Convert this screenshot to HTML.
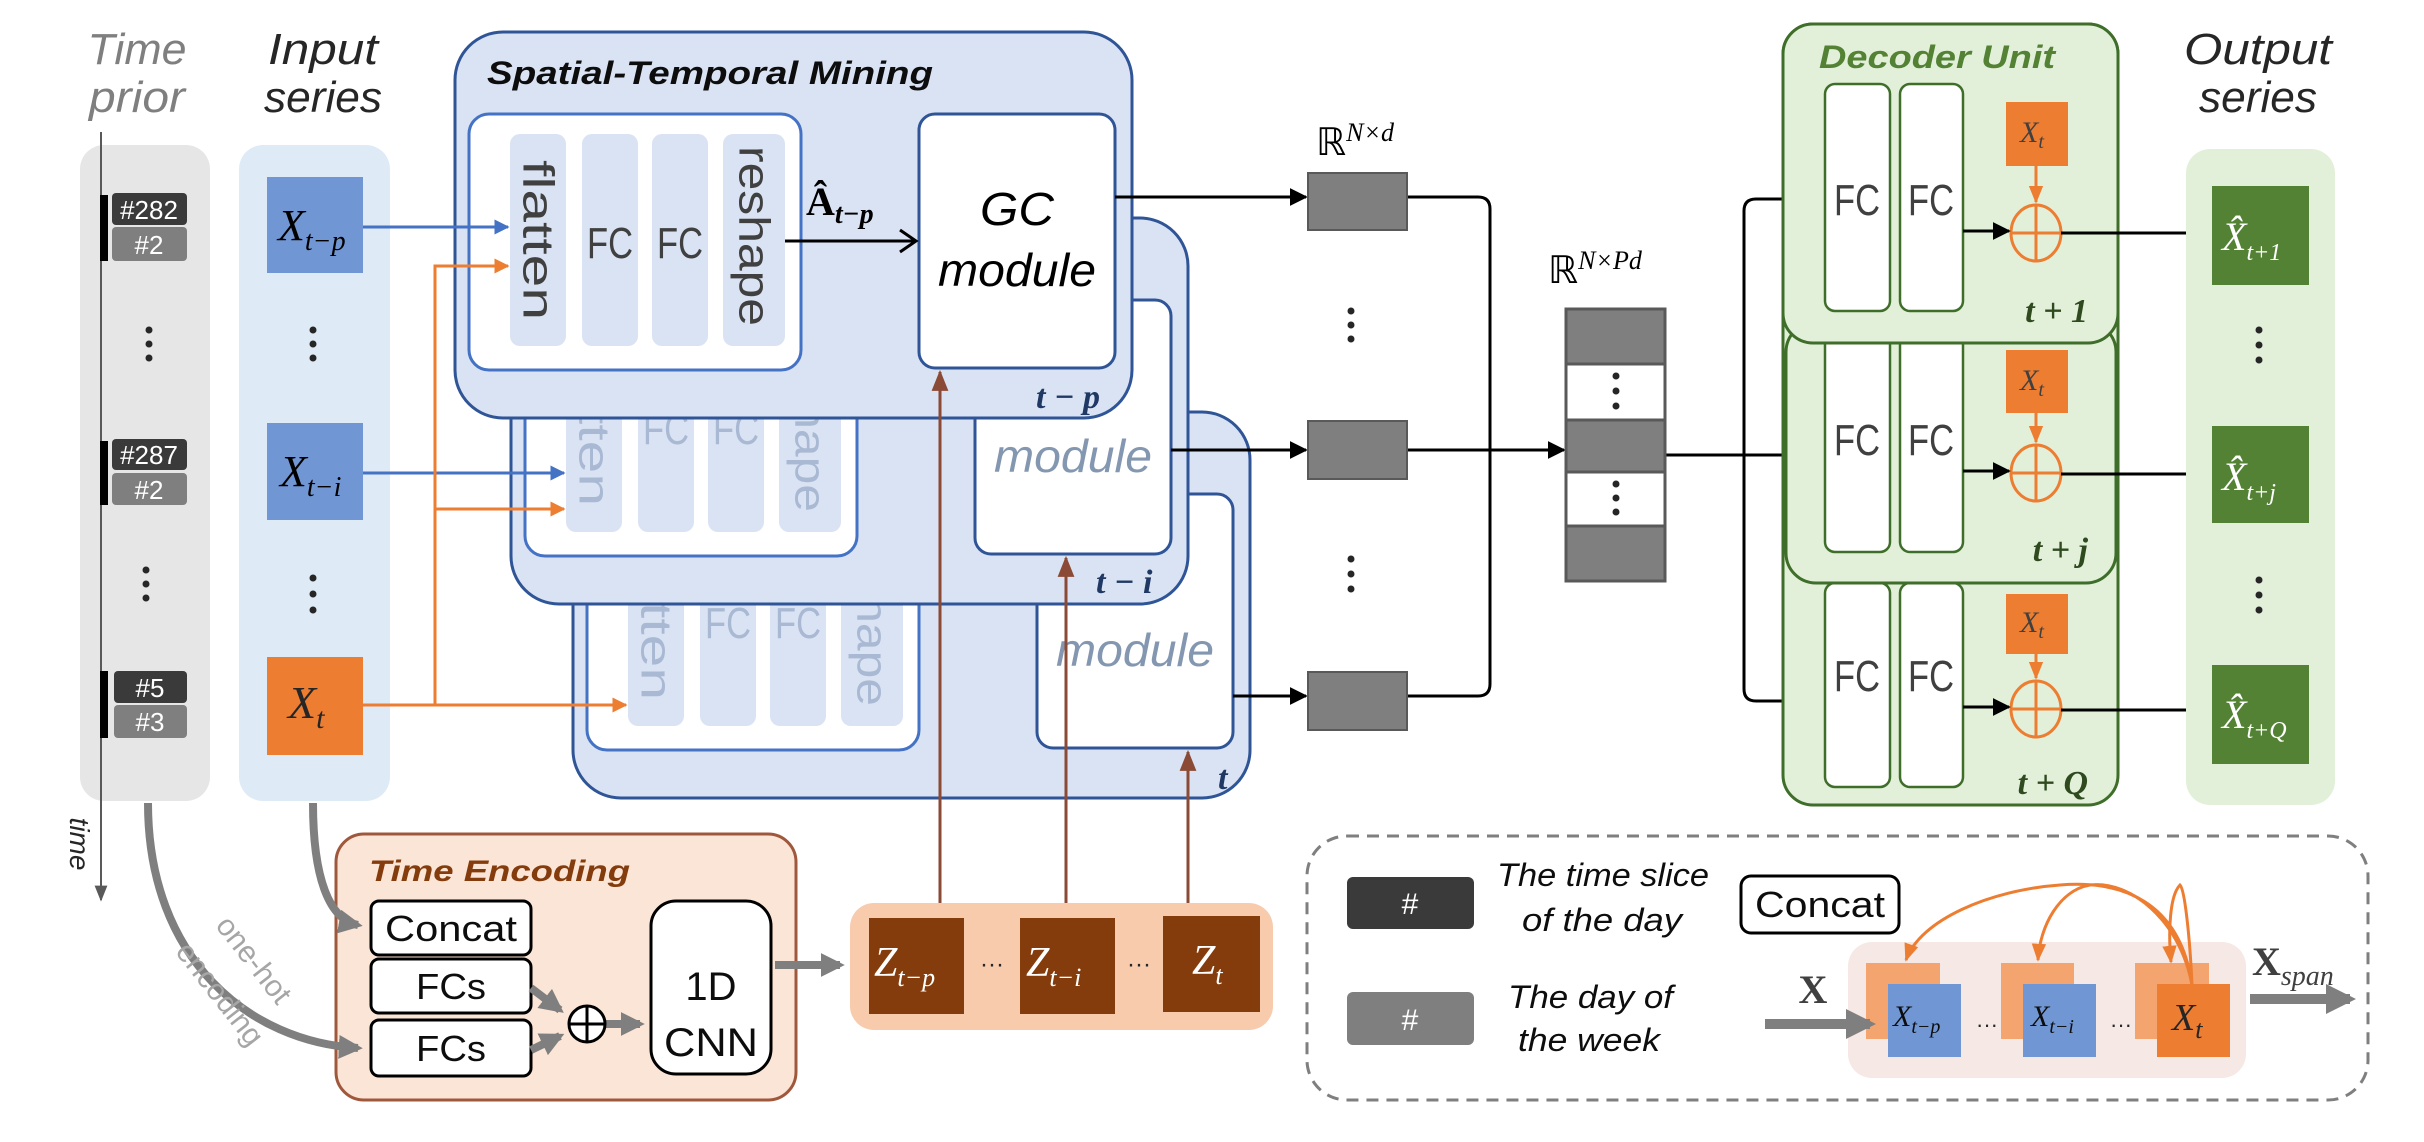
<!DOCTYPE html>
<html><head><meta charset="utf-8"><style>
html,body{margin:0;padding:0;background:#fff}
svg{display:block}
.s{font-family:"Liberation Sans",sans-serif}
.m{font-family:"Liberation Serif",serif;font-style:italic}
</style></head><body>
<svg width="2424" height="1142" viewBox="0 0 2424 1142" xmlns="http://www.w3.org/2000/svg">
<defs>
<marker id="ab" viewBox="0 0 10 10" refX="9" refY="5" markerWidth="5" markerHeight="5" orient="auto"><path d="M0,0L10,5L0,10z" fill="#4472c4"/></marker>
<marker id="ao" viewBox="0 0 10 10" refX="9" refY="5" markerWidth="5" markerHeight="5" orient="auto"><path d="M0,0L10,5L0,10z" fill="#ed7d31"/></marker>
<marker id="ak" viewBox="0 0 10 10" refX="9" refY="5" markerWidth="6" markerHeight="6" orient="auto"><path d="M0,0L10,5L0,10z" fill="#000"/></marker>
<marker id="ar" viewBox="0 0 10 10" refX="9" refY="5" markerWidth="7" markerHeight="7" orient="auto"><path d="M0,1L10,5L0,9z" fill="#8b4a35"/></marker>
<marker id="ag" viewBox="0 0 10 10" refX="8" refY="5" markerWidth="3" markerHeight="3" orient="auto"><path d="M0,0L10,5L0,10z" fill="#7f7f7f"/></marker>
<marker id="at" viewBox="0 0 10 10" refX="9" refY="5" markerWidth="8" markerHeight="8" orient="auto"><path d="M0,1L10,5L0,9z" fill="#595959"/></marker>
<marker id="ao2" viewBox="0 0 10 10" refX="9" refY="5" markerWidth="6" markerHeight="6" orient="auto"><path d="M0,1L10,5L0,9z" fill="#ed7d31"/></marker>
</defs>

<!-- Titles -->
<text class="s" x="137" y="64" font-size="44" font-style="italic" fill="#7f7f7f" text-anchor="middle" textLength="99" lengthAdjust="spacingAndGlyphs">Time</text>
<text class="s" x="137" y="112" font-size="44" font-style="italic" fill="#7f7f7f" text-anchor="middle" textLength="96" lengthAdjust="spacingAndGlyphs">prior</text>
<text class="s" x="323" y="64" font-size="44" font-style="italic" fill="#262626" text-anchor="middle" textLength="110" lengthAdjust="spacingAndGlyphs">Input</text>
<text class="s" x="323" y="112" font-size="44" font-style="italic" fill="#262626" text-anchor="middle" textLength="118" lengthAdjust="spacingAndGlyphs">series</text>
<text class="s" x="2258" y="64" font-size="44" font-style="italic" fill="#262626" text-anchor="middle" textLength="148" lengthAdjust="spacingAndGlyphs">Output</text>
<text class="s" x="2258" y="112" font-size="44" font-style="italic" fill="#262626" text-anchor="middle" textLength="118" lengthAdjust="spacingAndGlyphs">series</text>

<!-- Time prior panel -->
<rect x="80" y="145" width="130" height="656" rx="24" fill="#e7e6e6"/>
<line x1="101" y1="132" x2="101" y2="900" stroke="#595959" stroke-width="2" marker-end="url(#at)"/>
<text class="s" transform="translate(70,844) rotate(90)" font-size="28" font-style="italic" text-anchor="middle" fill="#262626">time</text>
<g class="s" font-size="26" fill="#fff" text-anchor="middle">
<rect x="100" y="195" width="8" height="66" fill="#000"/>
<rect x="112" y="193" width="75" height="32" rx="4" fill="#3a3a3a"/><text x="149" y="219">#282</text>
<rect x="112" y="227" width="75" height="34" rx="4" fill="#7f7f7f"/><text x="149" y="254">#2</text>
<rect x="100" y="441" width="8" height="64" fill="#000"/>
<rect x="112" y="439" width="75" height="31" rx="4" fill="#3a3a3a"/><text x="149" y="464">#287</text>
<rect x="112" y="473" width="75" height="32" rx="4" fill="#7f7f7f"/><text x="149" y="499">#2</text>
<rect x="100" y="671" width="8" height="67" fill="#000"/>
<rect x="114" y="671" width="73" height="32" rx="4" fill="#3a3a3a"/><text x="150" y="697">#5</text>
<rect x="114" y="705" width="73" height="33" rx="4" fill="#7f7f7f"/><text x="150" y="731">#3</text>
</g>
<g fill="#262626"><circle cx="149" cy="330" r="3.5"/><circle cx="149" cy="344" r="3.5"/><circle cx="149" cy="358" r="3.5"/>
<circle cx="146" cy="570" r="3.5"/><circle cx="146" cy="584" r="3.5"/><circle cx="146" cy="598" r="3.5"/></g>

<!-- Input panel -->
<rect x="239" y="145" width="151" height="656" rx="24" fill="#deebf7"/>
<rect x="267" y="177" width="96" height="96" fill="#7096d4"/>
<text class="m" x="278" y="240" font-size="44" fill="#000">X<tspan font-size="28" dy="10">t−p</tspan></text>
<rect x="267" y="423" width="96" height="97" fill="#7096d4"/>
<text class="m" x="280" y="486" font-size="44" fill="#000">X<tspan font-size="28" dy="10">t−i</tspan></text>
<rect x="267" y="657" width="96" height="98" fill="#ed7d31"/>
<text class="m" x="288" y="718" font-size="46" fill="#262626">X<tspan font-size="30" dy="10">t</tspan></text>
<g fill="#262626"><circle cx="313" cy="330" r="3.5"/><circle cx="313" cy="344" r="3.5"/><circle cx="313" cy="358" r="3.5"/>
<circle cx="313" cy="578" r="3.5"/><circle cx="313" cy="594" r="3.5"/><circle cx="313" cy="610" r="3.5"/></g>

<!-- STM third (back) -->
<g transform="translate(118,380)">
<rect x="455" y="32" width="677" height="386" rx="48" fill="#dae3f3" stroke="#2f5597" stroke-width="3"/>
<rect x="469" y="114" width="332" height="256" rx="20" fill="#fff" stroke="#4472c4" stroke-width="3"/>
<rect x="510" y="134" width="56" height="212" rx="10" fill="#dae3f3"/><rect x="582" y="134" width="56" height="212" rx="10" fill="#dae3f3"/>
<rect x="652" y="134" width="56" height="212" rx="10" fill="#dae3f3"/><rect x="723" y="134" width="62" height="212" rx="10" fill="#dae3f3"/>
<g class="s" fill="#aab9d3" font-size="44"><text transform="translate(538,240) rotate(90)" text-anchor="middle" dominant-baseline="central" textLength="160" lengthAdjust="spacingAndGlyphs">flatten</text>
<text x="610" y="258" text-anchor="middle" textLength="46" lengthAdjust="spacingAndGlyphs">FC</text><text x="680" y="258" text-anchor="middle" textLength="46" lengthAdjust="spacingAndGlyphs">FC</text>
<text transform="translate(754,236) rotate(90)" text-anchor="middle" dominant-baseline="central" textLength="180" lengthAdjust="spacingAndGlyphs">reshape</text></g>
<rect x="919" y="114" width="196" height="254" rx="16" fill="#fff" stroke="#2f5597" stroke-width="3"/>
<text class="s" x="1017" y="286" font-size="46" font-style="italic" fill="#8497b0" text-anchor="middle" textLength="158" lengthAdjust="spacingAndGlyphs">module</text>
<text class="m" x="1100" y="409" font-size="34" font-weight="bold" fill="#1f3864">t</text>
</g>
<!-- STM second -->
<g transform="translate(56,186)">
<rect x="455" y="32" width="677" height="386" rx="48" fill="#dae3f3" stroke="#2f5597" stroke-width="3"/>
<rect x="469" y="114" width="332" height="256" rx="20" fill="#fff" stroke="#4472c4" stroke-width="3"/>
<rect x="510" y="134" width="56" height="212" rx="10" fill="#dae3f3"/><rect x="582" y="134" width="56" height="212" rx="10" fill="#dae3f3"/>
<rect x="652" y="134" width="56" height="212" rx="10" fill="#dae3f3"/><rect x="723" y="134" width="62" height="212" rx="10" fill="#dae3f3"/>
<g class="s" fill="#aab9d3" font-size="44"><text transform="translate(538,240) rotate(90)" text-anchor="middle" dominant-baseline="central" textLength="160" lengthAdjust="spacingAndGlyphs">flatten</text>
<text x="610" y="258" text-anchor="middle" textLength="46" lengthAdjust="spacingAndGlyphs">FC</text><text x="680" y="258" text-anchor="middle" textLength="46" lengthAdjust="spacingAndGlyphs">FC</text>
<text transform="translate(754,236) rotate(90)" text-anchor="middle" dominant-baseline="central" textLength="180" lengthAdjust="spacingAndGlyphs">reshape</text></g>
<rect x="919" y="114" width="196" height="254" rx="16" fill="#fff" stroke="#2f5597" stroke-width="3"/>
<text class="s" x="1017" y="286" font-size="46" font-style="italic" fill="#8497b0" text-anchor="middle" textLength="158" lengthAdjust="spacingAndGlyphs">module</text>
<text class="m" x="1040" y="407" font-size="34" font-weight="bold" fill="#1f3864">t − i</text>
</g>
<!-- STM front -->
<g>
<rect x="455" y="32" width="677" height="386" rx="48" fill="#dae3f3" stroke="#2f5597" stroke-width="3"/>
<text class="s" x="487" y="84" font-size="32" font-weight="bold" font-style="italic" fill="#0d0d0d" textLength="446" lengthAdjust="spacingAndGlyphs">Spatial-Temporal Mining</text>
<rect x="469" y="114" width="332" height="256" rx="20" fill="#fff" stroke="#4472c4" stroke-width="3"/>
<rect x="510" y="134" width="56" height="212" rx="10" fill="#dae3f3"/><rect x="582" y="134" width="56" height="212" rx="10" fill="#dae3f3"/>
<rect x="652" y="134" width="56" height="212" rx="10" fill="#dae3f3"/><rect x="723" y="134" width="62" height="212" rx="10" fill="#dae3f3"/>
<g class="s" fill="#404040" font-size="44"><text transform="translate(538,240) rotate(90)" text-anchor="middle" dominant-baseline="central" textLength="160" lengthAdjust="spacingAndGlyphs">flatten</text>
<text x="610" y="258" text-anchor="middle" textLength="46" lengthAdjust="spacingAndGlyphs">FC</text><text x="680" y="258" text-anchor="middle" textLength="46" lengthAdjust="spacingAndGlyphs">FC</text>
<text transform="translate(754,236) rotate(90)" text-anchor="middle" dominant-baseline="central" textLength="180" lengthAdjust="spacingAndGlyphs">reshape</text></g>
<rect x="919" y="114" width="196" height="254" rx="16" fill="#fff" stroke="#2f5597" stroke-width="3"/>
<text class="s" x="1017" y="225" font-size="46" font-style="italic" fill="#000" text-anchor="middle" textLength="74" lengthAdjust="spacingAndGlyphs">GC</text>
<text class="s" x="1017" y="286" font-size="46" font-style="italic" fill="#000" text-anchor="middle" textLength="158" lengthAdjust="spacingAndGlyphs">module</text>
<text class="m" x="1036" y="408" font-size="34" font-weight="bold" fill="#1f3864">t − p</text>
<text x="806" y="215" font-family="Liberation Serif,serif" font-size="40" font-weight="bold" fill="#000">Â<tspan class="m" font-size="28" dy="8">t−p</tspan></text>
<line x1="785" y1="241" x2="915" y2="241" stroke="#000" stroke-width="3"/>
<path d="M900,230L916,241L900,252" fill="none" stroke="#000" stroke-width="3"/>
</g>

<!-- input arrows -->
<line x1="363" y1="227" x2="508" y2="227" stroke="#4472c4" stroke-width="3" marker-end="url(#ab)"/>
<line x1="363" y1="473" x2="564" y2="473" stroke="#4472c4" stroke-width="3" marker-end="url(#ab)"/>
<path d="M363,705H626" stroke="#ed7d31" stroke-width="3" fill="none" marker-end="url(#ao)"/>
<path d="M435,705V266H508" stroke="#ed7d31" stroke-width="3" fill="none" marker-end="url(#ao)"/>
<path d="M435,509H564" stroke="#ed7d31" stroke-width="3" fill="none" marker-end="url(#ao)"/>

<!-- brown arrows -->
<line x1="940" y1="918" x2="940" y2="372" stroke="#8b4a35" stroke-width="3" marker-end="url(#ar)"/>
<line x1="1066" y1="918" x2="1066" y2="558" stroke="#8b4a35" stroke-width="3" marker-end="url(#ar)"/>
<line x1="1188" y1="918" x2="1188" y2="752" stroke="#8b4a35" stroke-width="3" marker-end="url(#ar)"/>

<!-- black arrows to R^Nxd -->
<g stroke="#000" stroke-width="3" fill="none">
<line x1="1115" y1="197" x2="1306" y2="197" marker-end="url(#ak)"/>
<line x1="1171" y1="450" x2="1306" y2="450" marker-end="url(#ak)"/>
<line x1="1233" y1="696" x2="1306" y2="696" marker-end="url(#ak)"/>
<path d="M1407,197H1478Q1490,197 1490,209V684Q1490,696 1478,696H1407"/>
<line x1="1407" y1="450" x2="1564" y2="450" marker-end="url(#ak)"/>
<line x1="1665" y1="455" x2="1824" y2="455" marker-end="url(#ak)"/>
<path d="M1824,199H1756Q1744,199 1744,211V689Q1744,701 1756,701H1824"/>
<line x1="1800" y1="199" x2="1824" y2="199" marker-end="url(#ak)"/>
<line x1="1800" y1="701" x2="1824" y2="701" marker-end="url(#ak)"/>
</g>
<text x="1316" y="155" font-family="Liberation Serif,serif" font-size="38" fill="#000">ℝ<tspan class="m" font-size="26" dy="-14">N×d</tspan></text>
<rect x="1308" y="173" width="99" height="57" fill="#7f7f7f" stroke="#595959" stroke-width="2"/>
<rect x="1308" y="421" width="99" height="58" fill="#7f7f7f" stroke="#595959" stroke-width="2"/>
<rect x="1308" y="672" width="99" height="58" fill="#7f7f7f" stroke="#595959" stroke-width="2"/>
<g fill="#262626"><circle cx="1351" cy="311" r="3.5"/><circle cx="1351" cy="325" r="3.5"/><circle cx="1351" cy="339" r="3.5"/>
<circle cx="1351" cy="559" r="3.5"/><circle cx="1351" cy="574" r="3.5"/><circle cx="1351" cy="589" r="3.5"/></g>
<text x="1548" y="283" font-family="Liberation Serif,serif" font-size="38" fill="#000">ℝ<tspan class="m" font-size="26" dy="-14">N×Pd</tspan></text>
<rect x="1566" y="309" width="99" height="272" fill="#fff" stroke="#595959" stroke-width="3"/>
<rect x="1566" y="309" width="99" height="55" fill="#7f7f7f" stroke="#595959" stroke-width="3"/>
<rect x="1566" y="420" width="99" height="52" fill="#7f7f7f" stroke="#595959" stroke-width="3"/>
<rect x="1566" y="526" width="99" height="55" fill="#7f7f7f" stroke="#595959" stroke-width="3"/>
<g fill="#262626"><circle cx="1616" cy="376" r="3.5"/><circle cx="1616" cy="391" r="3.5"/><circle cx="1616" cy="406" r="3.5"/>
<circle cx="1616" cy="484" r="3.5"/><circle cx="1616" cy="498" r="3.5"/><circle cx="1616" cy="512" r="3.5"/></g>

<!-- Decoder -->
<rect x="1783" y="24" width="335" height="781" rx="30" fill="#e2f0d9" stroke="#3f6e2a" stroke-width="3"/>
<g fill="#fff" stroke="#3f6e2a" stroke-width="2.5">
<rect x="1825" y="583" width="65" height="204" rx="10"/><rect x="1900" y="583" width="63" height="204" rx="10"/></g>
<rect x="1786" y="322" width="330" height="261" rx="30" fill="#e2f0d9" stroke="#3f6e2a" stroke-width="3"/>
<g fill="#fff" stroke="#3f6e2a" stroke-width="2.5">
<rect x="1825" y="330" width="65" height="222" rx="10"/><rect x="1900" y="330" width="63" height="222" rx="10"/></g>
<rect x="1783" y="24" width="335" height="319" rx="30" fill="#e2f0d9" stroke="#3f6e2a" stroke-width="3"/>
<text class="s" x="1819" y="68" font-size="32" font-weight="bold" font-style="italic" fill="#548235" textLength="236" lengthAdjust="spacingAndGlyphs">Decoder Unit</text>
<g fill="#fff" stroke="#3f6e2a" stroke-width="2.5">
<rect x="1825" y="84" width="65" height="227" rx="10"/><rect x="1900" y="84" width="63" height="227" rx="10"/></g>
<g class="s" font-size="44" fill="#404040" text-anchor="middle">
<text x="1857" y="215" textLength="46" lengthAdjust="spacingAndGlyphs">FC</text><text x="1931" y="215" textLength="46" lengthAdjust="spacingAndGlyphs">FC</text>
<text x="1857" y="455" textLength="46" lengthAdjust="spacingAndGlyphs">FC</text><text x="1931" y="455" textLength="46" lengthAdjust="spacingAndGlyphs">FC</text>
<text x="1857" y="691" textLength="46" lengthAdjust="spacingAndGlyphs">FC</text><text x="1931" y="691" textLength="46" lengthAdjust="spacingAndGlyphs">FC</text></g>
<g>
<rect x="2006" y="102" width="62" height="64" fill="#ed7d31"/><text class="m" x="2020" y="142" font-size="30" fill="#404040">X<tspan font-size="20" dy="6">t</tspan></text>
<rect x="2006" y="350" width="62" height="63" fill="#ed7d31"/><text class="m" x="2020" y="390" font-size="30" fill="#404040">X<tspan font-size="20" dy="6">t</tspan></text>
<rect x="2006" y="594" width="62" height="60" fill="#ed7d31"/><text class="m" x="2020" y="632" font-size="30" fill="#404040">X<tspan font-size="20" dy="6">t</tspan></text>
</g>
<g stroke="#ed7d31" stroke-width="3" fill="none">
<line x1="2036" y1="166" x2="2036" y2="202" marker-end="url(#ao2)"/>
<line x1="2036" y1="413" x2="2036" y2="442" marker-end="url(#ao2)"/>
<line x1="2036" y1="654" x2="2036" y2="678" marker-end="url(#ao2)"/>
<ellipse cx="2036" cy="233" rx="25" ry="28"/><path d="M2011,233H2061M2036,205V261"/>
<ellipse cx="2036" cy="473" rx="25" ry="28"/><path d="M2011,473H2061M2036,445V501"/>
<ellipse cx="2036" cy="709" rx="25" ry="28"/><path d="M2011,709H2061M2036,681V737"/>
</g>
<g stroke="#000" stroke-width="3">
<line x1="1963" y1="231" x2="2009" y2="231" marker-end="url(#ak)"/>
<line x1="1963" y1="471" x2="2009" y2="471" marker-end="url(#ak)"/>
<line x1="1963" y1="707" x2="2009" y2="707" marker-end="url(#ak)"/>
<line x1="2061" y1="233" x2="2210" y2="233" marker-end="url(#ak)"/>
<line x1="2061" y1="474" x2="2210" y2="474" marker-end="url(#ak)"/>
<line x1="2061" y1="710" x2="2210" y2="710" marker-end="url(#ak)"/>
</g>
<g class="m" font-size="34" font-weight="bold" fill="#2e4a1e" text-anchor="end">
<text x="2088" y="322">t + 1</text><text x="2088" y="561">t + j</text><text x="2088" y="794">t + Q</text></g>

<!-- Output -->
<rect x="2186" y="149" width="149" height="656" rx="24" fill="#e2f0d9"/>
<rect x="2212" y="186" width="97" height="99" fill="#548235"/>
<rect x="2212" y="426" width="97" height="97" fill="#548235"/>
<rect x="2212" y="665" width="97" height="99" fill="#548235"/>
<g class="m" fill="#fff" font-size="40">
<text x="2222" y="250">X̂<tspan font-size="24" dy="10">t+1</tspan></text>
<text x="2222" y="490">X̂<tspan font-size="24" dy="10">t+j</tspan></text>
<text x="2222" y="728">X̂<tspan font-size="24" dy="10">t+Q</tspan></text></g>
<g fill="#262626"><circle cx="2259" cy="330" r="3.5"/><circle cx="2259" cy="345" r="3.5"/><circle cx="2259" cy="360" r="3.5"/>
<circle cx="2259" cy="580" r="3.5"/><circle cx="2259" cy="595" r="3.5"/><circle cx="2259" cy="610" r="3.5"/></g>

<!-- Time Encoding -->
<rect x="336" y="834" width="460" height="266" rx="28" fill="#fbe5d6" stroke="#a0583d" stroke-width="3"/>
<text class="s" x="369" y="881" font-size="30" font-weight="bold" font-style="italic" fill="#843c0c" textLength="261" lengthAdjust="spacingAndGlyphs">Time Encoding</text>
<g fill="#fff" stroke="#000" stroke-width="3">
<rect x="371" y="901" width="160" height="54" rx="8"/><rect x="371" y="959" width="160" height="54" rx="8"/><rect x="371" y="1020" width="160" height="56" rx="8"/>
<rect x="651" y="901" width="120" height="173" rx="25"/></g>
<g class="s" font-size="36" fill="#0d0d0d" text-anchor="middle">
<text x="451" y="941" textLength="132" lengthAdjust="spacingAndGlyphs">Concat</text>
<text x="451" y="999" textLength="70" lengthAdjust="spacingAndGlyphs">FCs</text>
<text x="451" y="1061" textLength="70" lengthAdjust="spacingAndGlyphs">FCs</text>
<text x="711" y="1000" font-size="40">1D</text><text x="711" y="1056" font-size="40" textLength="94" lengthAdjust="spacingAndGlyphs">CNN</text></g>
<g stroke="#7f7f7f" stroke-width="8" fill="none">
<path d="M531,988L560,1010" marker-end="url(#ag)"/>
<path d="M531,1050L560,1036" marker-end="url(#ag)"/>
<path d="M606,1024H640" marker-end="url(#ag)"/>
<path d="M775,965H840" marker-end="url(#ag)"/>
<path d="M148,803C148,960 250,1042 358,1048" marker-end="url(#ag)"/>
<path d="M313,803C313,880 330,920 358,925" marker-end="url(#ag)"/>
</g>
<circle cx="587" cy="1024" r="18" fill="#fff" stroke="#000" stroke-width="3"/>
<path d="M569,1024H605M587,1006V1042" stroke="#000" stroke-width="3"/>
<text class="s" transform="translate(246,966) rotate(52)" font-size="30" fill="#a6a6a6" text-anchor="middle">one-hot</text>
<text class="s" transform="translate(212,1000) rotate(52)" font-size="30" fill="#a6a6a6" text-anchor="middle">encoding</text>

<!-- Z panel -->
<rect x="850" y="903" width="423" height="127" rx="24" fill="#f8cbad"/>
<rect x="869" y="918" width="95" height="96" fill="#843c0c"/>
<rect x="1020" y="918" width="95" height="96" fill="#843c0c"/>
<rect x="1163" y="916" width="97" height="96" fill="#843c0c"/>
<g class="m" fill="#fff" font-size="42">
<text x="874" y="976">Z<tspan font-size="26" dy="10">t−p</tspan></text>
<text x="1026" y="976">Z<tspan font-size="26" dy="10">t−i</tspan></text>
<text x="1192" y="974">Z<tspan font-size="26" dy="10">t</tspan></text></g>
<text x="992" y="972" font-size="24" fill="#262626" text-anchor="middle" class="s">···</text>
<text x="1139" y="972" font-size="24" fill="#262626" text-anchor="middle" class="s">···</text>

<!-- Legend -->
<rect x="1307" y="836" width="1061" height="264" rx="40" fill="none" stroke="#7f7f7f" stroke-width="3" stroke-dasharray="12,8"/>
<rect x="1347" y="877" width="127" height="52" rx="6" fill="#3a3a3a"/>
<text class="s" x="1410" y="914" font-size="30" fill="#fff" text-anchor="middle">#</text>
<rect x="1347" y="992" width="127" height="53" rx="6" fill="#7f7f7f"/>
<text class="s" x="1410" y="1030" font-size="30" fill="#fff" text-anchor="middle">#</text>
<g class="s" font-size="32" font-style="italic" fill="#0d0d0d">
<text x="1497" y="886" textLength="212" lengthAdjust="spacingAndGlyphs">The time slice</text>
<text x="1522" y="931" textLength="160" lengthAdjust="spacingAndGlyphs">of the day</text>
<text x="1508" y="1008" textLength="165" lengthAdjust="spacingAndGlyphs">The day of</text>
<text x="1518" y="1051" textLength="142" lengthAdjust="spacingAndGlyphs">the week</text></g>
<rect x="1741" y="876" width="158" height="57" rx="10" fill="#fff" stroke="#000" stroke-width="3"/>
<text class="s" x="1820" y="917" font-size="36" text-anchor="middle" fill="#0d0d0d" textLength="130" lengthAdjust="spacingAndGlyphs">Concat</text>
<rect x="1848" y="942" width="398" height="136" rx="24" fill="#f6e8e4"/>
<rect x="1866" y="963" width="74" height="76" fill="#f4a46e"/>
<rect x="2001" y="963" width="73" height="76" fill="#f4a46e"/>
<rect x="2135" y="963" width="74" height="76" fill="#f4a46e"/>
<rect x="1888" y="984" width="73" height="73" fill="#7096d4"/>
<rect x="2023" y="984" width="73" height="73" fill="#7096d4"/>
<rect x="2157" y="984" width="73" height="73" fill="#ed7d31"/>
<g class="m" fill="#0d0d0d">
<text x="1893" y="1026" font-size="30">X<tspan font-size="20" dy="7">t−p</tspan></text>
<text x="2031" y="1026" font-size="30">X<tspan font-size="20" dy="7">t−i</tspan></text>
<text x="2172" y="1030" font-size="38" fill="#262626">X<tspan font-size="26" dy="8">t</tspan></text></g>
<text x="1987" y="1032" font-size="22" fill="#262626" text-anchor="middle" class="s">···</text>
<text x="2121" y="1032" font-size="22" fill="#262626" text-anchor="middle" class="s">···</text>
<g stroke="#7f7f7f" stroke-width="10" fill="none">
<path d="M1765,1024H1870" marker-end="url(#ag)"/>
<path d="M2250,999H2350" marker-end="url(#ag)"/></g>
<text x="1813" y="1003" font-family="Liberation Serif,serif" font-size="40" font-weight="bold" text-anchor="middle" fill="#404040">X</text>
<text x="2252" y="975" font-family="Liberation Serif,serif" font-size="40" font-weight="bold" fill="#404040">X<tspan class="m" font-weight="normal" font-size="28" dy="10">span</tspan></text>
<g stroke="#ed7d31" stroke-width="3" fill="none">
<path d="M2192,985C2180,900 2120,880 2060,885C1990,890 1920,920 1906,960" marker-end="url(#ao2)"/>
<path d="M2192,985C2180,920 2130,880 2090,885C2060,890 2040,925 2038,960" marker-end="url(#ao2)"/>
<path d="M2192,985C2190,940 2185,890 2180,885C2170,895 2168,930 2171,962" marker-end="url(#ao2)"/>
</g>
</svg>
</body></html>
